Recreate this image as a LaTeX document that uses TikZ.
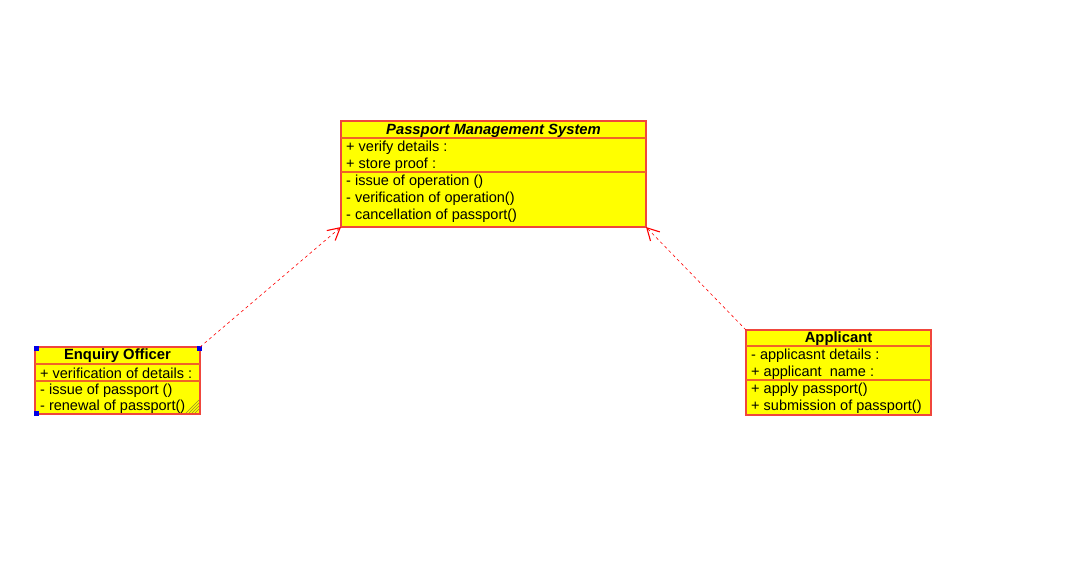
\documentclass[tikz,border=0pt]{standalone}
\usepackage{fontspec}
\setmainfont{Liberation Sans}
\usetikzlibrary{arrows.meta}
\definecolor{umlred}{RGB}{240,70,60}
\definecolor{umlsep}{RGB}{240,100,40}
\definecolor{umlyellow}{RGB}{255,255,0}
\definecolor{handle}{RGB}{0,0,230}
\definecolor{hatch}{RGB}{150,140,40}
\begin{document}
\begin{tikzpicture}[x=1pt,y=-1pt,
  cls/.style={draw=umlred, fill=umlyellow, line width=1.3pt, anchor=north west, inner sep=0pt, outer sep=0pt},
  sepline/.style={draw=umlsep, line width=1.3pt},
  member/.style={anchor=west, inner sep=0pt, font=\fontsize{14.5}{16}\selectfont},
  title/.style={anchor=center, inner sep=0pt, font=\fontsize{14.8}{16}\selectfont\bfseries},
  dep/.style={draw=red, line width=0.6pt, dash pattern=on 3pt off 3pt, -{Straight Barb[length=12pt,width=13pt,line width=1.1pt]}},
  hdl/.style={fill=handle, draw=none, minimum size=5pt, inner sep=0pt}]
\useasboundingbox (0,0) rectangle (1078,567);
\fill[white] (0,0) rectangle (1078,567);

% Passport Management System
\node[cls, minimum width=305pt, minimum height=106pt] (pms) at (341,121) {};
\draw[sepline] (341,138) -- (646,138);
\draw[sepline] (341,172) -- (646,172);
\node[title, font=\fontsize{14.8}{16}\selectfont\bfseries\itshape] (pmst) at (493.5,130.5) {Passport Management System};
\node[member] (p1) at (346,148) {+ verify details :};
\node[member] (p2) at (346,165) {+ store proof :};
\node[member] (p3) at (346,182) {- issue of operation ()};
\node[member] (p4) at (346,199) {- verification of operation()};
\node[member] (p5) at (346,216) {- cancellation of passport()};

% Enquiry Officer
\node[cls, minimum width=165pt, minimum height=67pt] (eo) at (35,347) {};
\draw[sepline] (35,364) -- (200,364);
\draw[sepline] (35,381) -- (200,381);
\node[title] (eot) at (117.5,356) {Enquiry Officer};
\node[member] (e1) at (40,373.5) {+ verification of details :};
\node[member] (e2) at (40,390.5) {- issue of passport ()};
\node[member] (e3) at (40,407) {- renewal of passport()};
\foreach \k in {0,3,6,9} {
  \draw[hatch, line width=0.6pt] (199,{400+\k}) -- ({186+\k},413);
}
\node[hdl] (h1) at (36,348) {};
\node[hdl] (h2) at (199,348) {};
\node[hdl] (h3) at (36,413) {};

% Applicant
\node[cls, minimum width=185pt, minimum height=85pt] (app) at (746,330) {};
\draw[sepline] (746,346) -- (931,346);
\draw[sepline] (746,380) -- (931,380);
\node[title] (appt) at (838.5,339) {Applicant};
\node[member] (a1) at (751,356) {- applicasnt details :};
\node[member] (a2) at (751,373) {+ applicant\ \ name :};
\node[member] (a3) at (751,390) {+ apply passport()};
\node[member] (a4) at (751,407) {+ submission of passport()};

% Dependencies
\draw[dep] (eo.north east) -- (pms.south west);
\draw[dep] (app.north west) -- (pms.south east);
\end{tikzpicture}
\end{document}
